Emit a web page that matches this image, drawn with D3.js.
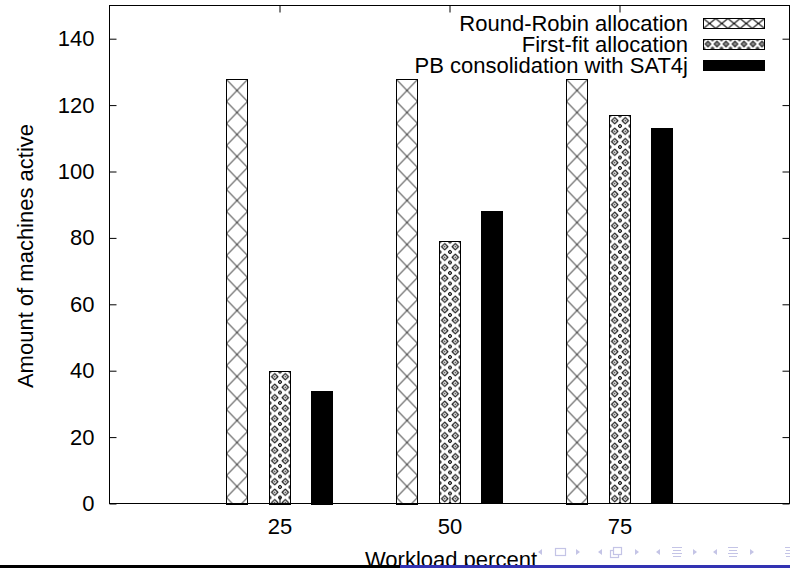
<!DOCTYPE html>
<html lang="en">
<head>
<meta charset="UTF-8">
<title>Machines active</title>
<script src="https://cdnjs.cloudflare.com/ajax/libs/d3/7.8.5/d3.min.js"></script>
<style>
  body { margin: 0; background: #fff; }
  text { font-family: "Liberation Sans", Arial, Helvetica, sans-serif; fill: #000; }
</style>
</head>
<body>
<svg id="chart" width="790" height="568"></svg>
<script>
// data
var categories = ['25', '50', '75'];
var seriesNames = ['Round-Robin allocation', 'First-fit allocation', 'PB consolidation with SAT4j'];
var roundRobin = [128, 128, 128];
var firstFit = [40, 79, 117];
var sat4j = [34, 88, 113];
var yTicks = [0, 20, 40, 60, 80, 100, 120, 140];

var series = [roundRobin, firstFit, sat4j];
var barFills = ['url(#hatch)', 'url(#dots)', '#000'];
var keyFills = ['url(#hatchKey)', 'url(#dotsKey)', '#000'];
var offsets = [-0.25, 0, 0.25];
var barW = 0.125;
var fontSize = 22;

var svg = d3.select('#chart');

var x = d3.scaleLinear().domain([0, 4]).range([109.5, 789.5]);
var y = d3.scaleLinear().domain([0, 150]).range([503.5, 5.5]);

// fill patterns (aligned to each bar's own origin)
var defs = svg.append('defs');

function crossPattern(id, w, h) {
    var p = defs.append('pattern')
        .attr('id', id)
        .attr('patternUnits', 'userSpaceOnUse')
        .attr('width', w).attr('height', h);
    p.append('rect').attr('width', w).attr('height', h).attr('fill', '#fff');
    p.append('path').attr('d', 'M0,0L' + w + ',' + h + 'M' + w + ',0L0,' + h)
        .attr('stroke', '#000').attr('stroke-width', 1);
}
crossPattern('hatch', 21, 22);
crossPattern('hatchKey', 12.2, 10);

function dotPattern(id, s) {
    var p = defs.append('pattern')
        .attr('id', id)
        .attr('patternUnits', 'userSpaceOnUse')
        .attr('width', s).attr('height', s);
    var c = s / 2, r = s * 0.3, t = s * 0.16;
    p.append('rect').attr('width', s).attr('height', s).attr('fill', '#fff');
    p.append('path').attr('d', 'M' + c + ',' + (c - r) + 'L' + (c + r) + ',' + c + 'L' + c + ',' + (c + r) + 'L' + (c - r) + ',' + c + 'Z')
        .attr('fill', 'none').attr('stroke', '#000').attr('stroke-width', 1.1);
    p.append('path').attr('d', 'M0,' + t + 'L' + t + ',0M' + s + ',' + t + 'L' + (s - t) + ',0M0,' + (s - t) + 'L' + t + ',' + s + 'M' + s + ',' + (s - t) + 'L' + (s - t) + ',' + s)
        .attr('stroke', '#000').attr('stroke-width', 1.1);
    p.append('circle').attr('cx', c).attr('cy', c).attr('r', 0.7).attr('fill', '#000');
}
dotPattern('dots', 10.5);
dotPattern('dotsKey', 9);

// bars
series.forEach(function (vals, si) {
    var bars = svg.append('g').selectAll('g')
        .data(vals)
        .enter()
        .append('g')
        .attr('transform', function (d, i) {
            return 'translate(' + (Math.round(x(i + 1 + offsets[si] - barW / 2)) + 0.5) + ',' + (Math.round(y(d)) + 0.5) + ')';
        });
    bars.append('rect')
        .attr('width', Math.round(x(barW) - x(0)))
        .attr('height', function (d) { return Math.round(y(0) - y(d)); })
        .attr('fill', barFills[si])
        .attr('stroke', '#000')
        .attr('stroke-width', 1);
});

// axes
var axLeft = svg.append('g')
    .attr('transform', 'translate(' + x(0) + ',0)')
    .call(d3.axisLeft(y).tickValues(yTicks).tickSize(-7).tickPadding(15));
var axRight = svg.append('g')
    .attr('transform', 'translate(' + x(4) + ',0)')
    .call(d3.axisRight(y).tickValues(yTicks).tickSize(-7).tickFormat(''));
var axBottom = svg.append('g')
    .attr('transform', 'translate(0,' + y(0) + ')')
    .call(d3.axisBottom(x).tickValues([1, 2, 3]).tickSize(-7).tickPadding(15)
        .tickFormat(function (d) { return categories[d - 1]; }));
var axTop = svg.append('g')
    .attr('transform', 'translate(0,' + y(150) + ')')
    .call(d3.axisTop(x).tickValues([1, 2, 3]).tickSize(-7).tickFormat(''));

[axLeft, axRight, axBottom, axTop].forEach(function (g) {
    g.select('.domain').remove();
    g.selectAll('line').attr('stroke', '#000');
    g.selectAll('text').attr('font-size', fontSize).attr('font-family', null);
});

// frame
svg.append('rect')
    .attr('x', x(0)).attr('y', y(150))
    .attr('width', x(4) - x(0)).attr('height', y(0) - y(150))
    .attr('fill', 'none').attr('stroke', '#000').attr('stroke-width', 1);

// legend
var legend = svg.append('g');
seriesNames.forEach(function (name, i) {
    var ly = 31 + i * 21;
    legend.append('text')
        .attr('x', 688).attr('y', ly)
        .attr('text-anchor', 'end')
        .attr('font-size', fontSize)
        .text(name);
    legend.append('g')
        .attr('transform', 'translate(703.5,' + (ly - 12.5) + ')')
        .append('rect')
        .attr('width', 61).attr('height', 10)
        .attr('fill', keyFills[i])
        .attr('stroke', '#000').attr('stroke-width', 1);
});

// axis titles
svg.append('text')
    .attr('transform', 'translate(33,256) rotate(-90)')
    .attr('text-anchor', 'middle')
    .attr('font-size', fontSize)
    .text('Amount of machines active');

svg.append('text')
    .attr('x', 451).attr('y', 567)
    .attr('text-anchor', 'middle')
    .attr('font-size', fontSize)
    .text('Workload percent');

// beamer footer line
svg.append('rect').attr('x', 0).attr('y', 565).attr('width', 400).attr('height', 3).attr('fill', '#000');
svg.append('rect').attr('x', 400).attr('y', 565).attr('width', 390).attr('height', 3).attr('fill', '#3333b2');

// beamer navigation symbols
var navColor = '#c4c4e6';
var nav = svg.append('g').attr('fill', navColor).attr('stroke', navColor);
function arrowL(cx) { nav.append('path').attr('d', 'M' + (cx + 2) + ',549L' + (cx - 2) + ',552L' + (cx + 2) + ',555Z').attr('stroke', 'none'); }
function arrowR(cx) { nav.append('path').attr('d', 'M' + (cx - 2) + ',549L' + (cx + 2) + ',552L' + (cx - 2) + ',555Z').attr('stroke', 'none'); }
function lines(cx) {
    [547.5, 550.5, 553.5, 556.5].forEach(function (ly, k) {
        nav.append('line').attr('x1', cx - 5 + (k % 2 ? 1 : 0)).attr('x2', cx + 5 - (k % 2 ? 1 : 0))
            .attr('y1', ly).attr('y2', ly).attr('stroke-width', 1);
    });
}
arrowL(540);
nav.append('rect').attr('x', 555.5).attr('y', 548.5).attr('width', 10).attr('height', 7).attr('fill', 'none').attr('stroke-width', 1.2);
arrowR(578);
arrowL(600);
nav.append('rect').attr('x', 610.5).attr('y', 550.5).attr('width', 8).attr('height', 7).attr('fill', '#fff').attr('stroke-width', 1.2);
nav.append('rect').attr('x', 613.5).attr('y', 547.5).attr('width', 8).attr('height', 7).attr('fill', '#fff').attr('stroke-width', 1.2);
arrowR(637);
arrowL(658); lines(677); arrowR(695);
arrowL(715); lines(733); arrowR(752);
lines(790);
</script>
</body>
</html>
